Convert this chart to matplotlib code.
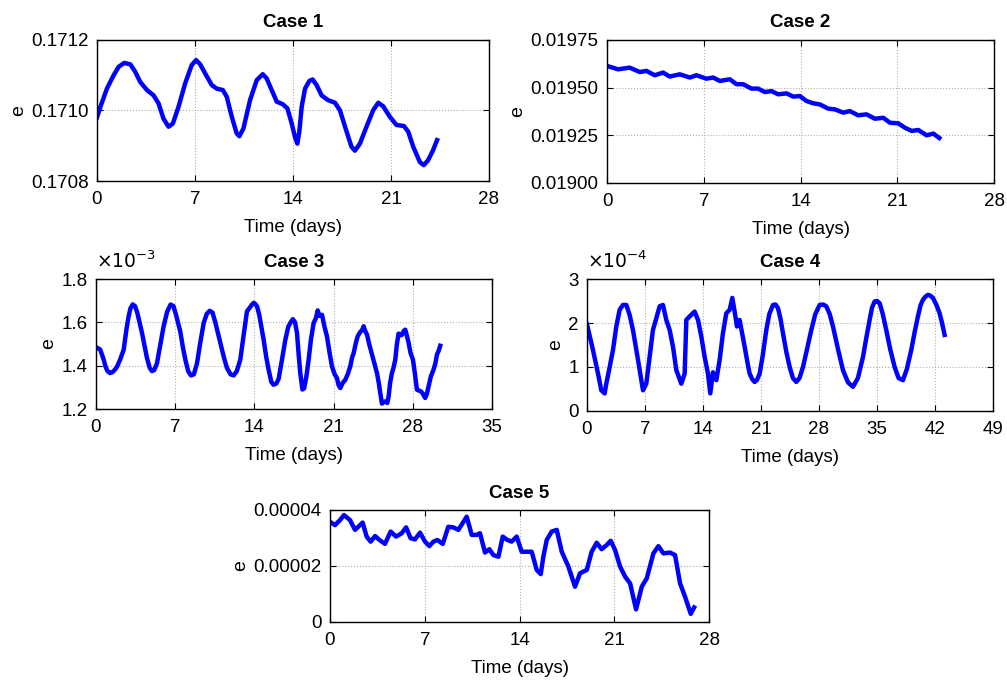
import numpy as np
import matplotlib
matplotlib.use("Agg")
import matplotlib.pyplot as plt
from matplotlib.ticker import FuncFormatter

plt.rcParams['font.family'] = ['Liberation Sans', 'DejaVu Sans']

# ---- data ----
t1 = [0.0, 0.24, 0.71, 1.19, 1.55, 1.95, 2.38, 2.73, 3.09, 3.57, 4.04, 4.4, 4.75,
      5.11, 5.42, 5.82, 6.3, 6.77, 7.08, 7.37, 7.73, 8.2, 8.56, 8.99, 9.27, 9.63,
      9.98, 10.17, 10.46, 10.93, 11.41, 11.84, 12.12, 12.48, 12.84, 13.26, 13.6,
      13.91, 14.14, 14.31, 14.45, 14.62, 14.86, 15.17, 15.4, 15.69, 16.04, 16.52,
      17.0, 17.35, 17.83, 18.18, 18.42, 18.78, 19.25, 19.73, 20.09, 20.44, 20.92,
      21.39, 21.92, 22.23, 22.59, 23.06, 23.34, 23.65, 24.0, 24.29]
e1 = [0.17098, 0.17101, 0.171062, 0.1711, 0.171124, 0.171135, 0.171131, 0.17111,
      0.171081, 0.171058, 0.171043, 0.17102, 0.170977, 0.170954, 0.170963, 0.17101,
      0.171077, 0.171129, 0.171143, 0.171131, 0.171105, 0.171072, 0.171062, 0.171058,
      0.171039, 0.170982, 0.170935, 0.170927, 0.170949, 0.171029, 0.171086, 0.171103,
      0.171091, 0.171058, 0.171025, 0.171018, 0.171006, 0.170963, 0.170925, 0.170906,
      0.170939, 0.17101, 0.171062, 0.171084, 0.171088, 0.171072, 0.171043, 0.171029,
      0.171022, 0.171001, 0.17094, 0.170897, 0.170886, 0.170906, 0.170954, 0.171001,
      0.171022, 0.171012, 0.170982, 0.170959, 0.170956, 0.17094, 0.170897, 0.170854,
      0.170845, 0.170859, 0.170887, 0.170916]

t2 = [0.0, 0.8, 1.64, 2.37, 2.85, 3.45, 4.06, 4.54, 5.26, 5.99, 6.47, 7.19, 7.68,
      8.16, 8.88, 9.37, 9.85, 10.45, 10.93, 11.42, 11.9, 12.38, 12.99, 13.47, 13.95,
      14.43, 14.92, 15.4, 16.0, 16.49, 17.09, 17.57, 18.17, 18.78, 19.38, 19.99,
      20.47, 21.07, 21.55, 22.04, 22.52, 23.12, 23.61, 24.04]
e2 = [0.019614, 0.019596, 0.019605, 0.019582, 0.019588, 0.019565, 0.019579, 0.019558,
      0.01957, 0.019553, 0.019565, 0.019547, 0.019553, 0.019535, 0.019544, 0.019518,
      0.019518, 0.019495, 0.019495, 0.019477, 0.019482, 0.019465, 0.01947, 0.019453,
      0.019456, 0.01943, 0.019418, 0.019412, 0.01939, 0.019386, 0.019369, 0.019377,
      0.019355, 0.01936, 0.019337, 0.019342, 0.019316, 0.019313, 0.01929, 0.019273,
      0.019278, 0.01925, 0.019259, 0.019236]

t3 = [0.0, 0.38, 0.68, 0.85, 1.03, 1.25, 1.45, 1.65, 1.86, 2.15, 2.45, 2.7, 2.89,
      3.05, 3.25, 3.45, 3.65, 3.85, 4.07, 4.51, 4.75, 4.95, 5.15, 5.39, 5.7, 5.98,
      6.3, 6.6, 6.85, 7.1, 7.45, 7.7, 7.9, 8.15, 8.4, 8.65, 8.93, 9.2, 9.52, 9.8,
      10.05, 10.3, 10.55, 10.99, 11.3, 11.58, 11.9, 12.17, 12.45, 12.76, 13.05,
      13.35, 13.6, 13.79, 13.95, 14.08, 14.25, 14.45, 14.82, 15.05, 15.26, 15.5,
      15.7, 15.95, 16.15, 16.45, 16.74, 17.0, 17.18, 17.4, 17.6, 17.77, 17.92,
      18.06, 18.25, 18.4, 18.6, 18.8, 19.0, 19.24, 19.45, 19.6, 19.75, 19.98, 20.2,
      20.42, 20.65, 20.86, 21.1, 21.3, 21.45, 21.6, 21.8, 22.04, 22.25, 22.48,
      22.65, 22.78, 22.95, 23.13, 23.35, 23.51, 23.66, 23.8, 23.96, 24.15, 24.4,
      24.6, 24.84, 25.0, 25.13, 25.28, 25.45, 25.57, 25.75, 25.87, 26.0, 26.16,
      26.3, 26.46, 26.6, 26.75, 26.9, 27.05, 27.2, 27.34, 27.5, 27.64, 27.8, 28.02,
      28.2, 28.37, 28.55, 28.72, 28.9, 29.1, 29.25, 29.4, 29.6, 29.84, 30.0, 30.14,
      30.3, 30.43]
e3 = np.array([1.486, 1.474, 1.428, 1.395, 1.374, 1.366, 1.37, 1.38, 1.395, 1.43,
               1.474, 1.57, 1.628, 1.665, 1.683, 1.675, 1.645, 1.6, 1.551, 1.435, 1.39,
               1.375, 1.38, 1.41, 1.5, 1.582, 1.65, 1.682, 1.675, 1.63, 1.558, 1.48,
               1.428, 1.375, 1.355, 1.36, 1.41, 1.5, 1.597, 1.64, 1.653, 1.645, 1.6,
               1.505, 1.44, 1.389, 1.36, 1.355, 1.375, 1.428, 1.54, 1.651, 1.668,
               1.682, 1.69, 1.685, 1.672, 1.63, 1.52, 1.44, 1.382, 1.325, 1.312,
               1.318, 1.34, 1.43, 1.52, 1.58, 1.597, 1.615, 1.6, 1.551, 1.45, 1.366,
               1.29, 1.295, 1.35, 1.428, 1.52, 1.597, 1.62, 1.655, 1.63, 1.635, 1.58,
               1.535, 1.46, 1.397, 1.36, 1.343, 1.31, 1.297, 1.32, 1.335, 1.36, 1.397,
               1.44, 1.458, 1.5, 1.535, 1.555, 1.563, 1.582, 1.56, 1.543, 1.5, 1.451,
               1.41, 1.366, 1.32, 1.274, 1.225, 1.232, 1.235, 1.228, 1.258, 1.32,
               1.366, 1.39, 1.428, 1.5, 1.548, 1.54, 1.543, 1.56, 1.566, 1.535, 1.505,
               1.46, 1.428, 1.36, 1.289, 1.285, 1.282, 1.27, 1.251, 1.27, 1.305, 1.35,
               1.382, 1.41, 1.451, 1.47, 1.492]) * 1e-3

t4 = [0.0, 0.72, 1.33, 1.73, 2.13, 2.33, 2.74, 3.14, 3.54, 3.94, 4.34, 4.75, 5.15,
      5.55, 6.16, 6.76, 7.16, 7.56, 7.96, 8.37, 8.77, 9.17, 9.57, 9.98, 10.38, 10.78,
      11.38, 11.79, 11.99, 12.39, 12.99, 13.4, 13.8, 14.2, 14.6, 14.88, 15.2, 15.61,
      16.01, 16.41, 16.81, 17.22, 17.54, 17.82, 18.1, 18.42, 19.03, 19.35, 19.63,
      19.95, 20.23, 20.5, 20.84, 21.2, 21.64, 22.0, 22.45, 22.75, 23.05, 23.35,
      23.65, 24.05, 24.46, 24.85, 25.26, 25.65, 26.07, 26.55, 27.07, 27.55, 28.08,
      28.5, 28.88, 29.3, 29.69, 30.3, 30.89, 31.5, 32.1, 32.7, 33.31, 33.7, 34.11,
      34.4, 34.72, 35.0, 35.32, 35.7, 36.12, 36.6, 37.13, 37.6, 38.13, 38.6, 39.14,
      39.55, 39.94, 40.25, 40.55, 40.85, 41.15, 41.45, 41.75, 42.15, 42.56, 42.85,
      43.16]
e4 = np.array([1.97, 1.39, 0.85, 0.47, 0.40, 0.62, 1.0, 1.39, 1.92, 2.30, 2.41, 2.41,
               2.18, 1.84, 1.16, 0.47, 0.62, 1.23, 1.84, 2.11, 2.38, 2.41, 2.07, 1.84,
               1.46, 0.93, 0.62, 0.85, 2.07, 2.15, 2.26, 2.07, 1.69, 1.23, 0.85, 0.40,
               0.88, 0.70, 1.16, 1.77, 2.22, 2.30, 2.57, 2.26, 1.92, 2.07, 1.46, 1.12,
               0.85, 0.72, 0.66, 0.7, 0.85, 1.25, 1.84, 2.2, 2.41, 2.42, 2.34, 2.1,
               1.77, 1.35, 1.0, 0.75, 0.66, 0.75, 1.0, 1.4, 1.84, 2.2, 2.41, 2.42, 2.38,
               2.2, 1.92, 1.4, 0.93, 0.65, 0.55, 0.75, 1.23, 1.65, 2.07, 2.35, 2.49,
               2.5, 2.45, 2.2, 1.84, 1.4, 1.0, 0.75, 0.70, 0.95, 1.39, 1.8, 2.15, 2.4,
               2.53, 2.6, 2.64, 2.62, 2.57, 2.42, 2.22, 2.0, 1.73]) * 1e-4

t5 = [0.0, 0.37, 0.74, 1.03, 1.48, 1.85, 2.09, 2.41, 2.71, 3.0, 3.33, 3.65, 4.06,
      4.48, 4.88, 5.3, 5.62, 5.96, 6.28, 6.65, 7.02, 7.34, 7.64, 7.93, 8.33, 8.74,
      9.11, 9.48, 10.1, 10.47, 10.84, 11.08, 11.45, 11.77, 12.07, 12.44, 12.76,
      13.1, 13.42, 13.79, 14.16, 14.53, 14.9, 15.27, 15.57, 15.76, 16.01, 16.38,
      16.75, 17.12, 17.61, 18.1, 18.47, 18.97, 19.33, 19.7, 20.07, 20.44, 20.74,
      21.06, 21.43, 21.8, 22.17, 22.61, 23.03, 23.4, 23.89, 24.26, 24.63, 25.12,
      25.49, 25.86, 26.23, 26.65, 26.9]
e5 = np.array([3.58, 3.46, 3.64, 3.82, 3.64, 3.29, 3.40, 3.55, 3.05, 2.87, 3.07, 2.93,
               2.79, 3.23, 3.05, 3.17, 3.38, 2.99, 2.95, 3.19, 2.87, 2.71, 2.87, 2.93,
               2.79, 3.40, 3.38, 3.29, 3.76, 3.11, 3.11, 3.17, 2.48, 2.60, 2.39, 2.33,
               3.05, 2.93, 2.87, 3.05, 2.51, 2.51, 2.51, 1.86, 1.71, 2.33, 2.93, 3.23,
               3.29, 2.51, 1.98, 1.26, 1.74, 1.86, 2.51, 2.83, 2.60, 2.75, 2.90, 2.57,
               1.98, 1.62, 1.38, 0.45, 1.26, 1.56, 2.45, 2.71, 2.45, 2.48, 2.39, 1.38,
               0.90, 0.29, 0.52]) * 1e-5

fig = plt.figure(figsize=(10.07, 6.8), dpi=100)

panels = [
    ("Case 1", t1, e1, [0.0963, 0.7338, 0.3893, 0.2074], 28, [0.1708, 0.1710, 0.1712], "%.4f", None),
    ("Case 2", t2, e2, [0.6028, 0.7309, 0.3843, 0.2103], 28, [0.019, 0.01925, 0.0195, 0.01975], "%.5f", None),
    ("Case 3", t3, e3, [0.0953, 0.3985, 0.3932, 0.1912], 35, [1.2e-3, 1.4e-3, 1.6e-3, 1.8e-3], "exp", -3),
    ("Case 4", t4, e4, [0.5829, 0.3956, 0.4032, 0.1941], 49, [0, 1e-4, 2e-4, 3e-4], "exp", -4),
    ("Case 5", t5, e5, [0.3277, 0.0853, 0.3764, 0.1647], 28, [0, 2e-5, 4e-5], "case5", None),
]

for title, t, e, pos, xmax, yt, fmt, expo in panels:
    ax = fig.add_axes(pos)
    ax.plot(t, e, color=(0, 0, 1), lw=3.2, solid_joinstyle='round')
    ax.set_xlim(0, xmax)
    ax.set_xticks(np.arange(0, xmax + 1, 7))
    ax.set_ylim(yt[0], yt[-1])
    ax.set_yticks(yt)
    if fmt == "case5":
        ax.yaxis.set_major_formatter(FuncFormatter(lambda v, p: "0" if abs(v) < 1e-12 else "%.5f" % v))
    elif fmt == "exp":
        ax.yaxis.set_major_formatter(FuncFormatter(lambda v, p, k=expo: "%g" % round(v / 10.0 ** k, 6)))
        ax.annotate(r"$\times10^{%d}$" % expo, xy=(0, 1), xycoords='axes fraction',
                    xytext=(0, 5), textcoords='offset points', ha='left', va='bottom',
                    fontsize=13.5)
    else:
        ax.yaxis.set_major_formatter(FuncFormatter(lambda v, p, f=fmt: f % v))
    ax.grid(True, linestyle=':', color='#b0b0b0', lw=0.8)
    ax.tick_params(direction='in', top=True, right=True, labelsize=13.5, length=4)
    ax.tick_params(axis='x', pad=7)
    ax.tick_params(axis='y', pad=6)
    for s in ax.spines.values():
        s.set_linewidth(1.0)
    ax.set_title(title, fontsize=13.5, fontweight='bold', pad=9)
    ax.set_xlabel("Time (days)", fontsize=13.5, labelpad=8)
    ax.set_ylabel("e", fontsize=14, labelpad=3)

fig.savefig("out.png", dpi=100)
